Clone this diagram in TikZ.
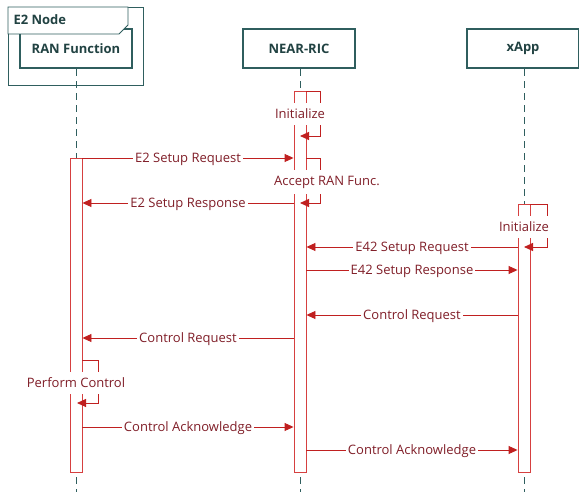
\documentclass[tikz,border=0pt]{standalone}
\usepackage{fontspec}
\setmainfont{Open Sans}
\usetikzlibrary{arrows.meta}
\definecolor{e2teal}{RGB}{47,94,94}
\definecolor{msgred}{RGB}{192,32,32}
\definecolor{barred}{RGB}{214,64,64}
\definecolor{msgtext}{RGB}{128,30,40}

\begin{document}
\begin{tikzpicture}[x=1pt,y=-1pt,
    head/.style={draw=e2teal,line width=2.4pt,minimum width=112pt,minimum height=39pt,
      font=\fontsize{13}{15}\selectfont\bfseries,text=e2teal!70!black},
    life/.style={draw=e2teal,line width=0.8pt,dash pattern=on 7pt off 5pt},
    bar/.style={draw=barred,fill=white,line width=0.9pt,minimum width=12pt,inner sep=0pt,anchor=north},
    msg/.style={draw=msgred,line width=0.9pt,-{Triangle[length=9pt,width=8pt]}},
    lbl/.style={fill=white,text=msgtext,inner xsep=2pt,inner ysep=6pt,yshift=-1pt,
      font=\fontsize{13}{15}\selectfont}]

      \useasboundingbox (0,0) rectangle (579,492);

      \draw[e2teal,line width=0.8pt] (8,7) rectangle (143,85);
      \node[head] (ran) at (76,48.5) {RAN Function};
      \node[head] (ric) at (299,48.5) {NEAR-RIC};
      \node[head] (xapp) at (523,48.5) {xApp};
      \draw[e2teal,line width=0.8pt,fill=white] (8,7) -- (128,7) -- (128,25) -- (119,34) -- (8,34) -- cycle;
      \node[anchor=west,text=e2teal!70!black,font=\fontsize{13}{15}\selectfont\bfseries] (e2node) at (10,20) {E2 Node};

      \draw[life] (ran.south -| 76,0) -- (76,492);
      \draw[life] (ric.south -| 300,0) -- (300,492);
      \draw[life] (xapp.south -| 524,0) -- (524,492);

      \node[bar,minimum height=314pt] (ranbar) at (76,158) {};
      \node[bar,minimum height=381pt] (ricbar) at (300,91) {};
      \node[bar,minimum height=268pt] (xbar) at (524,204) {};

      \draw[msg] (ricbar.east |- 0,91) -- (320,91) -- (320,136) -- (300,136);
      \node[lbl] (ricinit) at (300,113) {Initialize};

      \draw[msg] (ranbar.east |- 0,158) -- node[lbl] {E2 Setup Request} (ricbar.west |- 0,158);
      \draw[msg] (ricbar.east |- 0,158) -- (320,158) -- (320,203) -- (300,203);
      \node[lbl,anchor=west] (accept) at (272,181) {Accept RAN Func.};
      \draw[msg] (ricbar.west |- 0,203) -- node[lbl] {E2 Setup Response} (ranbar.east |- 0,203);

      \draw[msg] (xbar.east |- 0,204) -- (547,204) -- (547,247) -- (524,247);
      \node[lbl] (xinit) at (524,226) {Initialize};

      \draw[msg] (xbar.west |- 0,247) -- node[lbl] {E42 Setup Request} (ricbar.east |- 0,247);
      \draw[msg] (ricbar.east |- 0,270) -- node[lbl] {E42 Setup Response} (xbar.west |- 0,270);
      \draw[msg] (xbar.west |- 0,315) -- node[lbl] {Control Request} (ricbar.east |- 0,315);
      \draw[msg] (ricbar.west |- 0,338) -- node[lbl] {Control Request} (ranbar.east |- 0,338);

      \draw[msg] (ranbar.east |- 0,360) -- (98,360) -- (98,403) -- (77,403);
      \node[lbl] (perform) at (76,382) {Perform Control};

      \draw[msg] (ranbar.east |- 0,427) -- node[lbl] {Control Acknowledge} (ricbar.west |- 0,427);
      \draw[msg] (ricbar.east |- 0,450) -- node[lbl] {Control Acknowledge} (xbar.west |- 0,450);

    \end{tikzpicture}
\end{document}
